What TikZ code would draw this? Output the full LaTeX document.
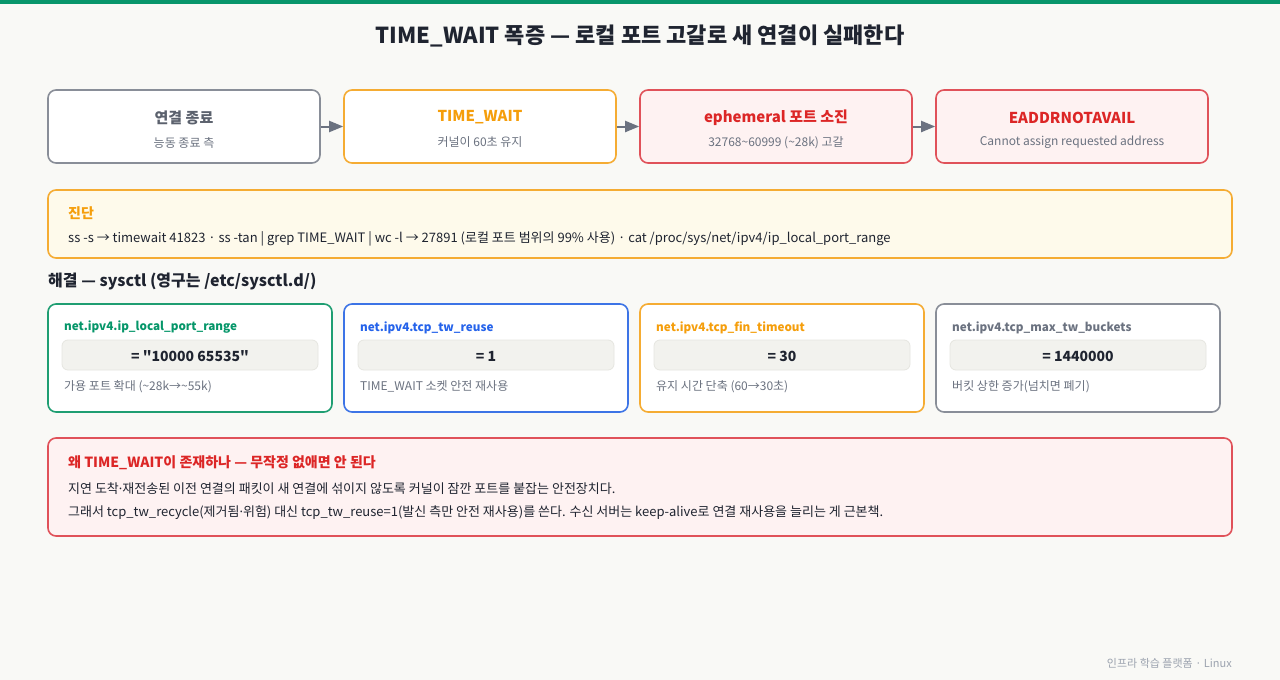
\documentclass[tikz,border=0pt]{standalone}
\usepackage{fontspec}
\setmainfont[Ligatures=TeXOff]{Noto Sans CJK KR}
\newfontfamily\latinsans{Noto Sans}
\newcommand{\mdot}{{\latinsans ·}}
\usetikzlibrary{arrows.meta}
\definecolor{bg}{HTML}{F9F9F6}
\definecolor{topbar}{HTML}{08966B}
\definecolor{ink}{HTML}{1F2430}
\definecolor{greyline}{HTML}{898E98}
\definecolor{greytext}{HTML}{6B7280}
\definecolor{orline}{HTML}{F5AC33}
\definecolor{ortext}{HTML}{F59E0B}
\definecolor{redline}{HTML}{E0525A}
\definecolor{redtext}{HTML}{DC2626}
\definecolor{redfill}{HTML}{FEF2F2}
\definecolor{yelfill}{HTML}{FEFAEB}
\definecolor{grline}{HTML}{1F9E72}
\definecolor{grtext}{HTML}{059669}
\definecolor{blline}{HTML}{3D74E6}
\definecolor{bltext}{HTML}{2563EB}
\definecolor{pill}{HTML}{F2F2EE}
\definecolor{pillline}{HTML}{E6E6E0}
\definecolor{foot}{HTML}{9CA3AF}
\tikzset{
  card/.style={draw, line width=1.6pt, rounded corners=8pt, inner sep=0pt},
  flowbox/.style={card, fill=white, minimum width=272pt, minimum height=73pt},
  setbox/.style={card, fill=white, minimum width=284pt, minimum height=108pt},
  pillbox/.style={draw=pillline, line width=0.8pt, fill=pill, rounded corners=6pt, minimum width=256pt, minimum height=30pt, inner sep=0pt},
  txt/.style={inner sep=0pt, yshift=-1.5pt},
  ftitle/.style={txt, font=\fontsize{15}{18}\selectfont\bfseries, anchor=center},
  fsub/.style={txt, font=\fontsize{12}{14}\selectfont, text=greytext, anchor=center},
  shead/.style={txt, font=\fontsize{11.7}{14}\selectfont\bfseries, anchor=west},
  sval/.style={txt, font=\fontsize{14}{17}\selectfont\bfseries, text=ink, anchor=center},
  sdesc/.style={txt, font=\fontsize{12}{14}\selectfont, text=greytext, anchor=west},
  body/.style={txt, font=\fontsize{13}{16}\selectfont, text=ink, anchor=west},
  flow/.style={draw=greytext, line width=2pt, -{Triangle[length=14pt,width=11pt]}}
}
\begin{document}
\begin{tikzpicture}[x=1pt,y=-1pt]
\fill[bg] (0,0) rectangle (1280,680);
\useasboundingbox (0,0) rectangle (1280,680);
\fill[topbar] (0,0) rectangle (1280,4);
\node[txt, font=\fontsize{22}{26}\selectfont\bfseries, text=ink] (title) at (640,34) {TIME\_WAIT 폭증 — 로컬 포트 고갈로 새 연결이 실패한다};

% flow row
\node[flowbox, draw=greyline] (b1) at (184,126.5) {};
\node[flowbox, draw=orline] (b2) at (480,126.5) {};
\node[flowbox, draw=redline, fill=redfill] (b3) at (776,126.5) {};
\node[flowbox, draw=redline, fill=redfill] (b4) at (1072,126.5) {};
\node[ftitle, text=greytext!85!black] (t1) at (184,116) {연결 종료};
\node[fsub] (s1) at (184,141) {능동 종료 측};
\node[ftitle, text=ortext] (t2) at (480,116) {TIME\_WAIT};
\node[fsub] (s2) at (480,141) {커널이 60초 유지};
\node[ftitle, text=redtext] (t3) at (776,116) {ephemeral 포트 소진};
\node[fsub] (s3) at (776,141) {32768\textasciitilde60999 (\textasciitilde28k) 고갈};
\node[ftitle, text=redtext] (t4) at (1072,116) {EADDRNOTAVAIL};
\node[fsub] (s4) at (1072,141) {Cannot assign requested address};
\draw[flow] (b1.east) -- (b2.west);
\draw[flow] (b2.east) -- (b3.west);
\draw[flow] (b3.east) -- (b4.west);

% diagnosis
\node[card, draw=orline, fill=yelfill, minimum width=1184pt, minimum height=68pt] (diag) at (640,224) {};
\node[txt, font=\fontsize{14}{17}\selectfont\bfseries, text=ortext, anchor=west] (dh) at (68,212) {진단};
\node[body] (dt) at (68,237) {ss -s → timewait 41823 · ss -tan | grep TIME\_WAIT | wc -l → 27891 (로컬 포트 범위의 99\% 사용) · cat /proc/sys/net/ipv4/ip\_local\_port\_range};

% section heading
\node[txt, font=\fontsize{16}{19}\selectfont\bfseries, text=ink, anchor=west] (sec) at (48,280) {해결 — sysctl (영구는 /etc/sysctl.d/)};

% settings cards
\node[setbox, draw=grline] (c1) at (190,358) {};
\node[setbox, draw=blline] (c2) at (486,358) {};
\node[setbox, draw=orline] (c3) at (782,358) {};
\node[setbox, draw=greyline] (c4) at (1078,358) {};
\node[shead, text=grtext] (h1) at (64,326) {net.ipv4.ip\_local\_port\_range};
\node[shead, text=bltext] (h2) at (360,326) {net.ipv4.tcp\_tw\_reuse};
\node[shead, text=ortext] (h3) at (656,326) {net.ipv4.tcp\_fin\_timeout};
\node[shead, text=greytext] (h4) at (952,326) {net.ipv4.tcp\_max\_tw\_buckets};
\node[pillbox] (p1) at (190,355) {};
\node[pillbox] (p2) at (486,355) {};
\node[pillbox] (p3) at (782,355) {};
\node[pillbox] (p4) at (1078,355) {};
\node[sval] (v1) at (190,355) {= "10000 65535"};
\node[sval] (v2) at (486,355) {= 1};
\node[sval] (v3) at (782,355) {= 30};
\node[sval] (v4) at (1078,355) {= 1440000};
\node[sdesc] (d1) at (64,385) {가용 포트 확대 (\textasciitilde28k→\textasciitilde55k)};
\node[sdesc] (d2) at (360,385) {TIME\_WAIT 소켓 안전 재사용};
\node[sdesc] (d3) at (656,385) {유지 시간 단축 (60→30초)};
\node[sdesc] (d4) at (952,385) {버킷 상한 증가(넘치면 폐기)};

% why box
\node[card, draw=redline, fill=redfill, minimum width=1184pt, minimum height=98pt] (why) at (640,487) {};
\node[txt, font=\fontsize{14}{17}\selectfont\bfseries, text=redtext, anchor=west] (wh) at (68,461) {왜 TIME\_WAIT이 존재하나 — 무작정 없애면 안 된다};
\node[body] (w1) at (68,487) {지연 도착\mdot 재전송된 이전 연결의 패킷이 새 연결에 섞이지 않도록 커널이 잠깐 포트를 붙잡는 안전장치다.};
\node[body] (w2) at (68,511) {그래서 tcp\_tw\_recycle(제거됨\mdot 위험) 대신 tcp\_tw\_reuse=1(발신 측만 안전 재사용)를 쓴다. 수신 서버는 keep-alive로 연결 재사용을 늘리는 게 근본책.};

\node[txt, font=\fontsize{11}{13}\selectfont, text=foot, anchor=east] (ft) at (1232,662) {인프라 학습 플랫폼 · Linux};
\end{tikzpicture}
\end{document}
